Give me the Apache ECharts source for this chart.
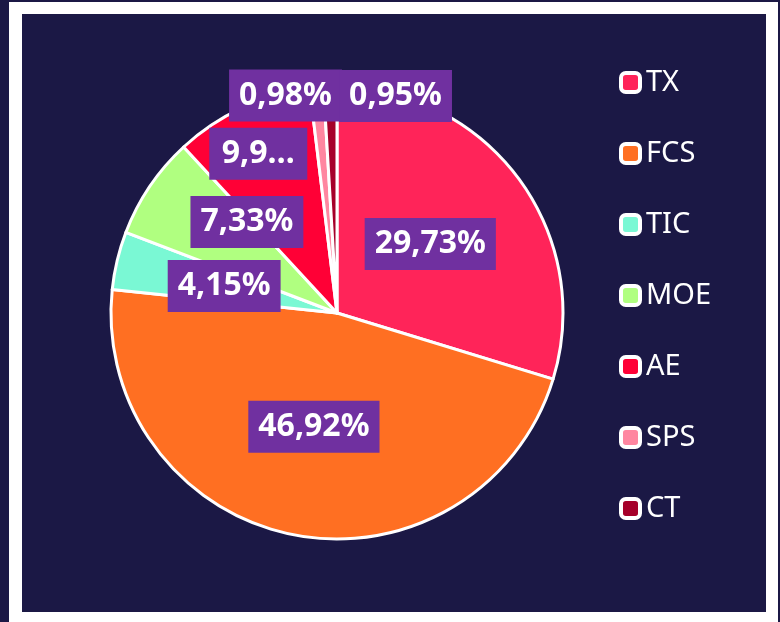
<!DOCTYPE html>
<html>
<head>
<meta charset="utf-8">
<script src="https://cdn.jsdelivr.net/npm/echarts@6/dist/echarts.min.js"></script>
<style>
    html, body { margin: 0; padding: 0; background: #1b1845; width: 780px; height: 622px; overflow: hidden; }
    #frame {
        position: absolute; left: 9px; top: 2px;
        width: 744px; height: 598px;
        border-style: solid; border-color: #ffffff;
        border-width: 12px 12px 10px 13px;
        background: #1b1845;
    }
    #chart { width: 744px; height: 598px; }
</style>
</head>
<body>
<div id="frame"><div id="chart"></div></div>
<script>
document.addEventListener('DOMContentLoaded', function () {
    const myChart = echarts.init(document.getElementById('chart'));

    // 数据
    const categories = ['TX', 'FCS', 'TIC', 'MOE', 'AE', 'SPS', 'CT'];
    const shares = [29.73, 46.92, 4.15, 7.33, 9.94, 0.98, 0.95];
    const colors = ['#ff2459', '#ff6f22', '#7af8d4', '#b0ff80', '#ff0036', '#ff86a0', '#a6002a'];

    // labels that got nudged away from the slice centre
    const labelTweaks = {
        MOE: { offset: [6, -26] },
        AE: { offset: [-30, -54], width: 78, overflow: 'truncate', ellipsis: '…' },
        SPS: { offset: [-41, -102] },
        CT: { offset: [62, -101] }
    };

    const pieData = categories.map((name, i) => {
        const item = {
            name: name,
            value: shares[i],
            itemStyle: { color: colors[i] }
        };
        if (labelTweaks[name]) item.label = labelTweaks[name];
        return item;
    });

    const option = {
        animation: false,
        backgroundColor: '#1b1845',
        legend: {
            orient: 'vertical',
            left: 592,
            top: 49,
            itemWidth: 19,
            itemHeight: 19,
            itemGap: 42,
            icon: 'roundRect',
            itemStyle: { borderColor: '#ffffff', borderWidth: 4 },
            textStyle: {
                color: '#ffffff',
                fontFamily: 'Noto Sans',
                fontSize: 29,
                lineHeight: 29,
                padding: [0, 0, 0, 1]
            },
            data: categories
        },
        series: [
            {
                type: 'pie',
                center: [315, 299],
                radius: 226,
                startAngle: 90,
                clockwise: true,
                avoidLabelOverlap: false,
                minShowLabelAngle: 0,
                itemStyle: { borderColor: '#ffffff', borderWidth: 3 },
                label: {
                    show: true,
                    position: 'inside',
                    color: '#ffffff',
                    fontFamily: 'Noto Sans',
                    fontWeight: 'bold',
                    fontSize: 32,
                    lineHeight: 32,
                    backgroundColor: '#7030a0',
                    padding: [10, 10],
                    formatter: p => p.value.toFixed(2).replace('.', ',') + '%'
                },
                labelLayout: { hideOverlap: false, moveOverlap: null },
                labelLine: { show: false },
                emphasis: { disabled: true },
                data: pieData
            }
        ]
    };

    myChart.setOption(option);
});
</script>
</body>
</html>
